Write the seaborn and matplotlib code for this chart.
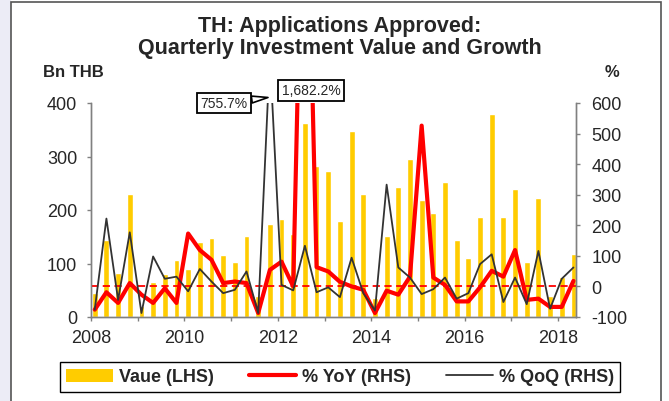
import matplotlib
matplotlib.use("Agg")
import matplotlib.pyplot as plt
from matplotlib.patches import Rectangle, Patch
from matplotlib.lines import Line2D
import seaborn as sns
import numpy as np

# Trimestres 2008Q1 - 2018Q2
periodos = [f"{a}Q{q}" for a in range(2008, 2019) for q in range(1, 5)][:42]

# Valor aprobado (Bn THB, eje izquierdo)
valor = [45, 143, 83, 229, 20, 65, 80, 106, 89, 140, 148, 116, 103, 151, 40, 174,
         184, 156, 363, 283, 272, 179, 347, 229, 35, 151, 243, 296, 218, 195, 253,
         143, 110, 187, 380, 187, 240, 102, 223, 40, 74, 118]

# Crecimiento interanual (%), eje derecho
yoy = [-76, -19, -54, 11, -27, -54, -6, -54, 173, 119, 87, 11, 16, 11, -87, 54,
       81, 0, 1682.2, 63, 49, 15, 0, -11, -87, -14, -27, 32, 526, 29, 5, -49,
       -49, -3, 51, 32, 119, -44, -40, -67, -67, 18]

# Crecimiento trimestral (%), eje derecho
qoq = [-76, 222, -44, 177, -87, 98, 25, 32, -16, 57, 16, -22, -11, 49, -87, 755.7,
       5, -13, 133, -19, -3, -35, 94, -22, -79, 333, 62, 29, -25, -9, 29, -40,
       -22, 73, 105, -51, 29, -58, 116, -73, 25, 62]

años_ticks = list(range(2008, 2019))
etiquetas_x = [str(a) if a % 2 == 0 else "" for a in años_ticks]

# posicion en el eje de fechas
pos = [int(p[:4]) + (int(p[-1]) - 1) * 0.25 + 0.08 for p in periodos]

sns.set_style("ticks")
plt.rcParams['font.family'] = ['Liberation Sans', 'DejaVu Sans']
plt.rcParams['axes.unicode_minus'] = False

fig = plt.figure(figsize=(6.69, 4.02), dpi=100)
fig.patch.set_facecolor("white")

#Fondo lila a la izquierda y marco exterior
fig.patches.append(Rectangle((0, 0), 11 / 669, 1, transform=fig.transFigure,
                             facecolor="#ececf6", edgecolor="none", zorder=0))
fig.patches.append(Rectangle((11 / 669, -0.05), 650 / 669, 1 - 3 / 402 + 0.05,
                             transform=fig.transFigure, facecolor="none",
                             edgecolor="#555555", lw=1.2, zorder=1))

ax = fig.add_axes([91 / 669, 1 - 318 / 402, 485 / 669, 214 / 402])
sns.barplot(x=pos, y=valor, native_scale=True, color="#FFCC00", saturation=1,
            width=0.5, ax=ax, zorder=1)
ax.set_xlim(2008, 2018.385)
ax.set_ylim(0, 400)
ax.set_yticks([0, 100, 200, 300, 400])
ax.set_xticks(años_ticks)
ax.set_xticklabels(etiquetas_x)
ax.set_xlabel("")
ax.set_ylabel("")

ax2 = ax.twinx()
ax2.axhline(0, color="#FF0000", lw=1.3, ls=(0, (4, 2.5)), zorder=2)
sns.lineplot(x=pos, y=yoy, ax=ax2, color="#FF0000", lw=3, zorder=3)
sns.lineplot(x=pos, y=qoq, ax=ax2, color="#333333", lw=1.3, zorder=4)
ax2.set_ylim(-100, 600)
ax2.set_yticks(range(-100, 700, 100))
ax2.set_ylabel("")

for a in (ax, ax2):
    a.spines["top"].set_visible(False)
    for s in ["left", "right", "bottom"]:
        a.spines[s].set_color("#808080")
        a.spines[s].set_linewidth(1)
    a.tick_params(length=3, width=1, color="#808080", labelsize=13)
ax.tick_params(axis="y", pad=7)
ax.tick_params(axis="x", pad=6)
ax2.tick_params(axis="y", pad=8)

#Etiquetas de los picos fuera de escala
ax2.annotate("755.7%", xy=(pos[15] - 0.04, 618), xytext=(2010.85, 600),
             fontsize=10, ha="center", va="center", annotation_clip=False,
             bbox=dict(boxstyle="square,pad=0.25", fc="white", ec="black", lw=1.3),
             arrowprops=dict(arrowstyle="wedge,tail_width=0.5", fc="white", ec="black", lw=1.2,
                             shrinkA=0, shrinkB=0))
ax2.text(2012.71, 642, "1,682.2%", fontsize=10, ha="center", va="center",
         bbox=dict(boxstyle="square,pad=0.25", fc="white", ec="black", lw=1.3))

#Titulos
fig.text(0.508, 1 - 32 / 402, "TH: Applications Approved:", ha="center", va="baseline",
         fontsize=15.5, fontweight="bold")
fig.text(0.508, 1 - 54 / 402, "Quarterly Investment Value and Growth", ha="center",
         va="baseline", fontsize=15.5, fontweight="bold")
fig.text(43 / 669, 1 - 77 / 402, "Bn THB", ha="left", va="baseline", fontsize=12,
         fontweight="bold")
fig.text(612 / 669, 1 - 77 / 402, "%", ha="center", va="baseline", fontsize=12,
         fontweight="bold")

#Leyenda
handles = [Patch(facecolor="#FFCC00", edgecolor="none"),
           Line2D([], [], color="#FF0000", lw=3),
           Line2D([], [], color="#333333", lw=1.3)]
labels = ["Vaue (LHS)", "% YoY (RHS)", "% QoQ (RHS)"]
leg = fig.legend(handles, labels, loc="center",
                 bbox_to_anchor=(60 / 669, 1 - 394 / 402, 560 / 669, 32 / 402),
                 mode="expand", ncol=3, fancybox=False, edgecolor="black", framealpha=1,
                 prop={"weight": "bold", "size": 13}, handlelength=2.6,
                 handletextpad=0.3, borderpad=0.35, borderaxespad=0)
leg.get_frame().set_linewidth(1)

plt.savefig("out.png", dpi=100)
